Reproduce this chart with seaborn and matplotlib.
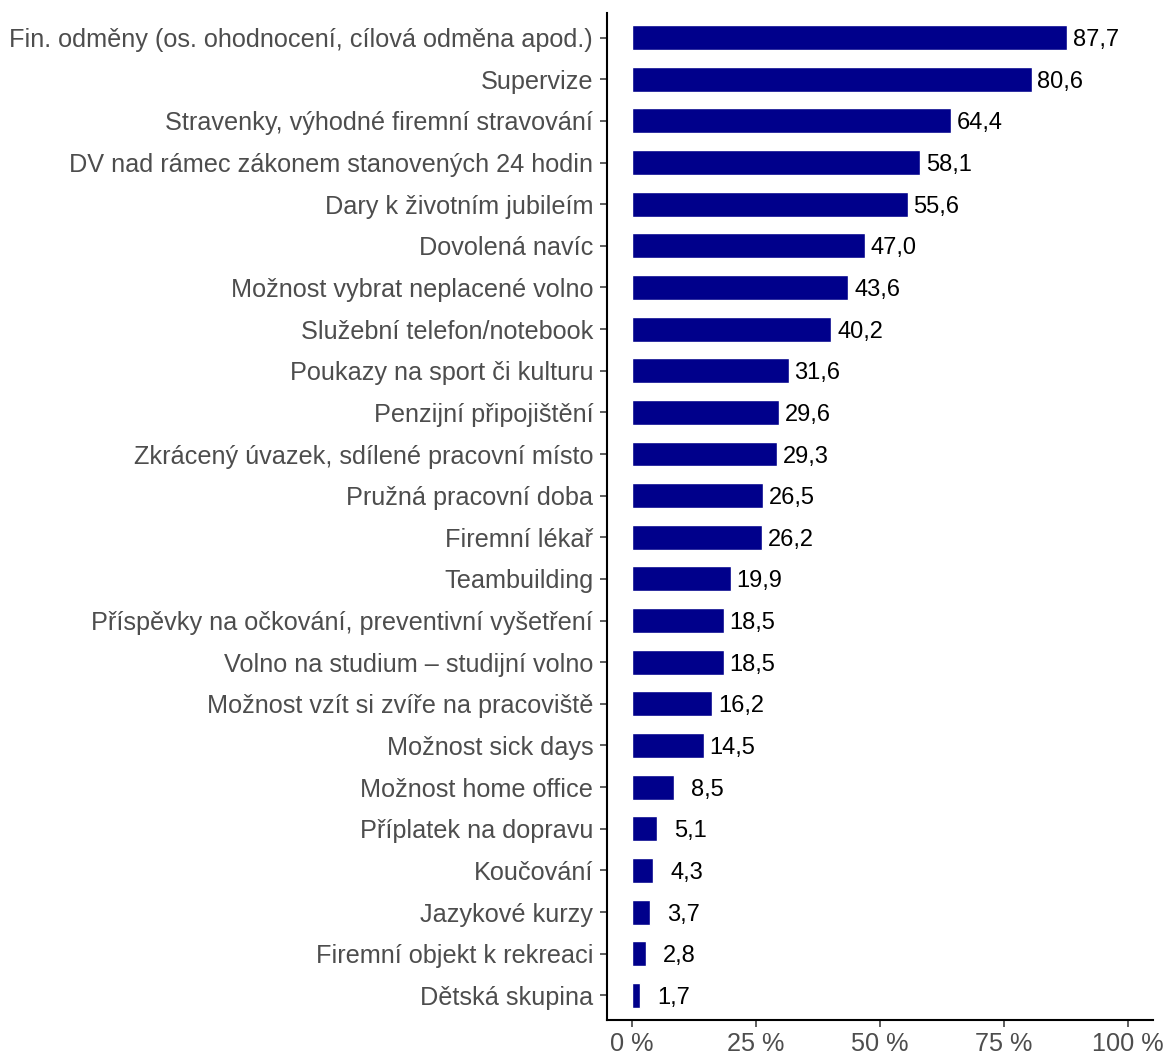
import numpy as np
import pandas as pd
import seaborn as sns
import matplotlib.pyplot as plt
from matplotlib.ticker import FuncFormatter

categories = [
    "Fin. odměny (os. ohodnocení, cílová odměna apod.)",
    "Supervize",
    "Stravenky, výhodné firemní stravování",
    "DV nad rámec zákonem stanovených 24 hodin",
    "Dary k životním jubileím",
    "Dovolená navíc",
    "Možnost vybrat neplacené volno",
    "Služební telefon/notebook",
    "Poukazy na sport či kulturu",
    "Penzijní připojištění",
    "Zkrácený úvazek, sdílené pracovní místo",
    "Pružná pracovní doba",
    "Firemní lékař",
    "Teambuilding",
    "Příspěvky na očkování, preventivní vyšetření",
    "Volno na studium – studijní volno",
    "Možnost vzít si zvíře na pracovišt\u011b",
    "Možnost sick days",
    "Možnost home office",
    "Příplatek na dopravu",
    "Koučování",
    "Jazykové kurzy",
    "Firemní objekt k rekreaci",
    "Dětská skupina",
]
values = [87.7, 80.6, 64.4, 58.1, 55.6, 47.0, 43.6, 40.2, 31.6, 29.6, 29.3, 26.5,
          26.2, 19.9, 18.5, 18.5, 16.2, 14.5, 8.5, 5.1, 4.3, 3.7, 2.8, 1.7]
x_ticks = [0, 25, 50, 75, 100]

df = pd.DataFrame({"item": categories, "pct": values})

sns.set_style("ticks")
plt.rcParams['font.family'] = ['Liberation Sans', 'DejaVu Sans']

fig = plt.figure(figsize=(11.63, 10.54), dpi=100)
ax = fig.add_axes([0.522, 0.032, 0.469, 0.956])

sns.barplot(data=df, x="pct", y="item", color="#00008B", saturation=1,
            width=0.6, ax=ax, orient="h")

# value labels, pushed a bit further out for the one-digit ones
for i, v in enumerate(values):
    off = 1.2 if v >= 10 else 3.4
    ax.text(v + off, i, f"{v:.1f}".replace(".", ","), va="center_baseline",
            ha="left", fontsize=17, color="black")

ax.set_xlim(-5, 105)
ax.set_ylim(len(categories) - 0.4, -0.6)
ax.set_xticks(x_ticks)
ax.xaxis.set_major_formatter(FuncFormatter(lambda x, p: f"{int(x)} %"))
ax.set_xlabel("")
ax.set_ylabel("")
ax.tick_params(axis="both", labelsize=18.2, labelcolor="#4D4D4D", color="#333333",
               length=5, width=1.1)
ax.tick_params(axis="y", pad=5)
for s in ["top", "right"]:
    ax.spines[s].set_visible(False)
for s in ["left", "bottom"]:
    ax.spines[s].set_linewidth(1.5)
    ax.spines[s].set_color("black")

plt.savefig("out.png", dpi=100)
